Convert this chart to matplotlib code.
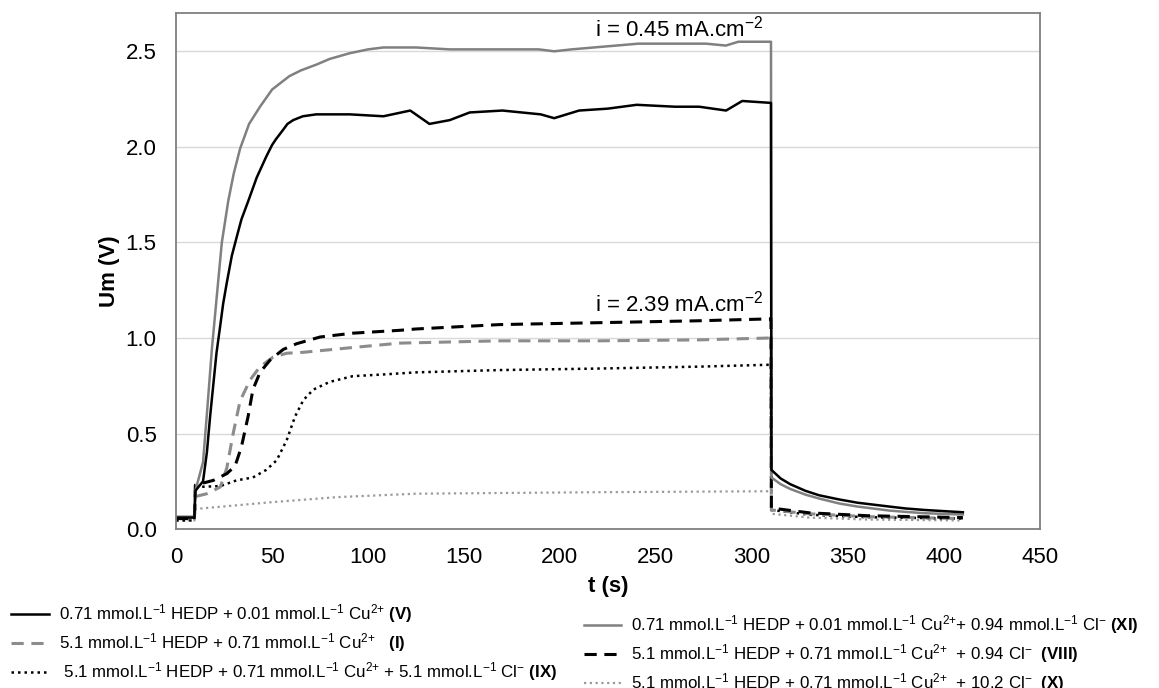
import matplotlib
matplotlib.use("Agg")
import matplotlib.pyplot as plt

plt.rcParams['font.family'] = ['Liberation Sans', 'DejaVu Sans']
plt.rcParams['mathtext.fontset'] = 'custom'
plt.rcParams['mathtext.rm'] = 'Liberation Sans'
plt.rcParams['mathtext.bf'] = 'Liberation Sans:bold'
plt.rcParams['mathtext.default'] = 'regular'

# (V) black solid
t_V = [0, 9.5, 10, 14, 16, 17.7, 19.4, 21, 22.9, 24.5, 26.4, 29, 31.6, 34, 37.7, 42, 47, 50, 52,
       55.8, 58, 61, 66, 73, 90.5, 108, 122, 132, 142.6, 153, 170, 190, 197, 210, 225, 240, 260,
       272.6, 286.6, 295, 310, 310.2, 315, 320, 328, 335, 345.5, 355, 371.5, 380, 390, 410]
U_V = [0.06, 0.06, 0.20, 0.25, 0.40, 0.59, 0.76, 0.92, 1.06, 1.18, 1.29, 1.43, 1.53, 1.62, 1.72, 1.84, 1.95, 2.01, 2.04,
       2.09, 2.12, 2.14, 2.16, 2.17, 2.17, 2.16, 2.19, 2.12, 2.14, 2.18, 2.19, 2.17, 2.15, 2.19, 2.20, 2.22, 2.21,
       2.21, 2.19, 2.24, 2.23, 0.31, 0.265, 0.235, 0.20, 0.177, 0.155, 0.138, 0.118, 0.108, 0.100, 0.088]

# (XI) grey solid
t_XI = [0, 9.5, 10, 14, 16, 18.6, 21, 23.8, 27.2, 30, 33.3, 38, 43.7, 50, 59, 65, 73, 80, 90.5, 100, 108, 125,
        142.6, 170, 189, 197, 206, 241, 276, 286.5, 293, 310, 310.2, 315, 320, 328, 335, 345.5, 355, 371.5,
        380, 390, 410]
U_XI = [0.065, 0.065, 0.20, 0.35, 0.60, 0.94, 1.20, 1.50, 1.72, 1.86, 1.99, 2.12, 2.21, 2.30, 2.37, 2.40, 2.43, 2.46,
        2.49, 2.51, 2.52, 2.52, 2.51, 2.51, 2.51, 2.50, 2.51, 2.54, 2.54, 2.53, 2.55, 2.55, 0.27, 0.235, 0.21, 0.18,
        0.16, 0.134, 0.118, 0.097, 0.09, 0.083, 0.076]

# (VIII) black dashed
t_VIII = [0, 9.5, 10, 19.4, 26.4, 30.7, 34, 37.5, 40, 43.7, 49, 55.8, 62.8, 75, 92, 116.5, 125,
          168.6, 220.6, 272.6, 310, 310.2, 330, 360, 410]
U_VIII = [0.055, 0.055, 0.23, 0.255, 0.29, 0.33, 0.43, 0.59, 0.73, 0.82, 0.885, 0.94, 0.97, 1.005, 1.025, 1.04, 1.047,
          1.07, 1.08, 1.09, 1.10, 0.11, 0.085, 0.07, 0.06]

# (I) grey dashed
t_I = [0, 9.5, 10, 16, 23, 26.4, 29.7, 33.3, 38.5, 43.7, 50.6, 57.6, 66.3, 92, 116.5, 168.6, 220.6,
       272.6, 310, 310.2, 330, 360, 410]
U_I = [0.06, 0.06, 0.17, 0.185, 0.22, 0.32, 0.50, 0.67, 0.78, 0.85, 0.90, 0.92, 0.925, 0.95, 0.973, 0.985, 0.985,
       0.99, 1.0, 0.10, 0.08, 0.065, 0.055]

# (IX) black dotted
t_IX = [0, 9.5, 10, 23, 31.5, 40, 47, 52.4, 57.6, 62, 66.3, 71.5, 80, 92, 109.6, 125, 168.6, 220.6,
        272.6, 310, 310.2, 330, 360, 410]
U_IX = [0.045, 0.045, 0.22, 0.225, 0.255, 0.27, 0.31, 0.36, 0.465, 0.59, 0.675, 0.73, 0.77, 0.80, 0.81, 0.82, 0.832, 0.84,
        0.85, 0.86, 0.10, 0.075, 0.062, 0.055]

# (X) grey dotted
t_X = [0, 9.5, 10, 49, 83.6, 125, 220.6, 310, 310.2, 330, 360, 410]
U_X = [0.045, 0.045, 0.105, 0.14, 0.167, 0.185, 0.193, 0.198, 0.08, 0.06, 0.05, 0.045]

lab_V = "0.71 mmol.L$^{-1}$ HEDP + 0.01 mmol.L$^{-1}$ Cu$^{2{+}}$ $\\mathbf{(V)}$"
lab_I = "5.1 mmol.L$^{-1}$ HEDP + 0.71 mmol.L$^{-1}$ Cu$^{2{+}}$   $\\mathbf{(I)}$"
lab_IX = " 5.1 mmol.L$^{-1}$ HEDP + 0.71 mmol.L$^{-1}$ Cu$^{2{+}}$ + 5.1 mmol.L$^{-1}$ Cl$^{-}$ $\\mathbf{(IX)}$"
lab_XI = "0.71 mmol.L$^{-1}$ HEDP + 0.01 mmol.L$^{-1}$ Cu$^{2{+}}$+ 0.94 mmol.L$^{-1}$ Cl$^{-}$ $\\mathbf{(XI)}$"
lab_VIII = "5.1 mmol.L$^{-1}$ HEDP + 0.71 mmol.L$^{-1}$ Cu$^{2{+}}$  + 0.94 Cl$^{-}$  $\\mathbf{(VIII)}$"
lab_X = "5.1 mmol.L$^{-1}$ HEDP + 0.71 mmol.L$^{-1}$ Cu$^{2{+}}$  + 10.2 Cl$^{-}$  $\\mathbf{(X)}$"

fig = plt.figure(figsize=(11.59, 6.88), dpi=100)
ax = fig.add_axes([0.152, 0.231, 0.745, 0.750])

lX, = ax.plot(t_X, U_X, color='#9a9a9a', lw=1.6, ls=(0, (1, 1.6)))
lIX, = ax.plot(t_IX, U_IX, color='black', lw=1.8, ls=(0, (1, 1.6)))
lI, = ax.plot(t_I, U_I, color='#8c8c8c', lw=2.2, ls=(0, (4, 2.5)))
lVIII, = ax.plot(t_VIII, U_VIII, color='black', lw=2.2, ls=(0, (4, 2.5)))
lXI, = ax.plot(t_XI, U_XI, color='#808080', lw=1.8)
lV, = ax.plot(t_V, U_V, color='black', lw=1.8)

ax.set_xlim(0, 450)
ax.set_ylim(0, 2.7)
ax.set_xticks(range(0, 451, 50))
ax.set_yticks([0, 0.5, 1.0, 1.5, 2.0, 2.5])
ax.set_yticklabels(['0.0', '0.5', '1.0', '1.5', '2.0', '2.5'])
ax.tick_params(length=0, labelsize=16)
ax.tick_params(axis='x', pad=13)
ax.tick_params(axis='y', pad=14)
ax.grid(axis='y', color='#d9d9d9', lw=1)
ax.set_axisbelow(True)
for s in ax.spines.values():
    s.set_color('#808080')
    s.set_linewidth(1.3)

ax.set_xlabel('t (s)', fontsize=16, fontweight='bold', labelpad=6)
ax.set_ylabel('Um (V)', fontsize=16, fontweight='bold', labelpad=4)

ax.text(306, 2.58, 'i = 0.45 mA.cm$^{-2}$', fontsize=16, ha='right', va='baseline')
ax.text(306, 1.14, 'i = 2.39 mA.cm$^{-2}$', fontsize=16, ha='right', va='baseline')

fig.legend([lV, lI, lIX], [lab_V, lab_I, lab_IX], loc='upper left',
           bbox_to_anchor=(0.004, 0.134), frameon=False, fontsize=12.2,
           handlelength=2.2, handletextpad=0.6, labelspacing=0.36, borderaxespad=0)
fig.legend([lXI, lVIII, lX], [lab_XI, lab_VIII, lab_X], loc='upper left',
           bbox_to_anchor=(0.498, 0.118), frameon=False, fontsize=12.2,
           handlelength=2.2, handletextpad=0.6, labelspacing=0.36, borderaxespad=0)

fig.savefig('out.png', dpi=100)
